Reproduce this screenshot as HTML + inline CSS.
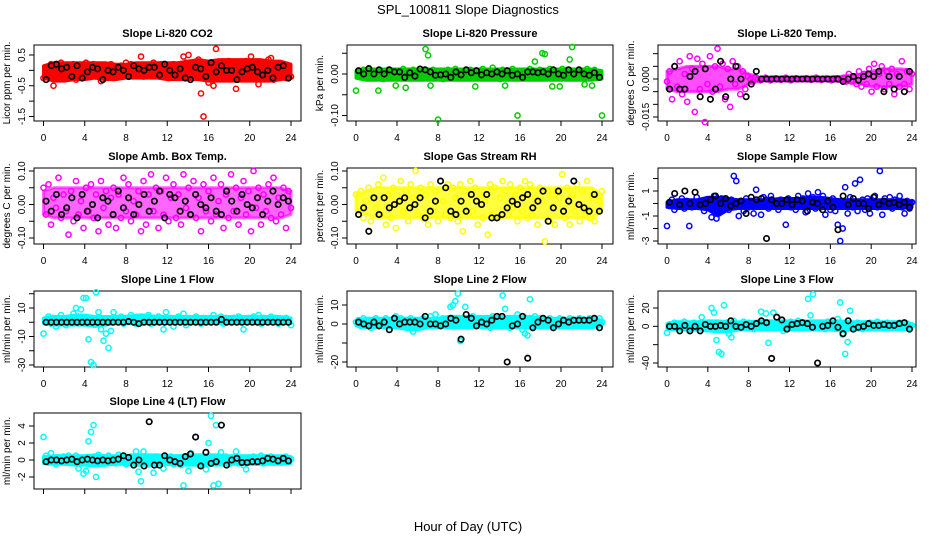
<!DOCTYPE html>
<html><head><meta charset="utf-8"><style>
html,body{margin:0;padding:0;background:#fff}
svg{display:block;font-family:"Liberation Sans",sans-serif}
</style></head><body>
<svg id="chart" width="936" height="540" viewBox="0 0 936 540">
<rect x="0" y="0" width="936" height="540" fill="#fff"/>
<text x="468" y="14" text-anchor="middle" font-size="13">SPL_100811  Slope Diagnostics</text>
<text x="468" y="531" text-anchor="middle" font-size="13">Hour of Day (UTC)</text>
</svg>
<script>
// ---- data (colored = high-rate slopes, black = half-hourly slopes) ----
const xTicks=[0,4,8,12,16,20,24];
const bandHours=[0,1,2,3,4,5,6,7,8,9,10,11,12,13,14,15,16,17,18,19,20,21,22,23,24];
const co2Vals=[-25,10,-5,20,-50,15,-10,25,5,-20,10,-15,20,-30,5,15,-10,25,-5,0,20,-20,10,-35,15,5,-10,20,-25,10,0,15,-10,25,-5,20,-15,10,5,45,-20,15,0,-10,25,-15,10,20,-5,15,-25,5,20,-10,15,-5,45,25,50,-15,10,-20,35,-75,-150,20,-40,15,-50,70,10,-25,20,-10,30,-15,25,-60,5,-20,15,30,-10,45,-25,20,-45,10,25,-15,35,40,-30,15,-10,20,5,-25,10,-20];
const co2Black=[-30,15,20,5,10,-20,15,-25,-5,10,5,-30,0,-5,10,0,-20,15,5,0,10,10,-15,20,0,-15,5,-25,-30,10,5,-20,25,-5,15,0,0,-30,-5,5,10,-5,-15,0,-25,10,15,-25];
const co2Lo=[-25,-35,-35,-30,-30,-25,-30,-30,-25,-25,-25,-25,-30,-30,-30,-30,-35,-35,-35,-35,-35,-35,-35,-30,-25];
const co2Hi=[15,25,25,25,25,25,25,20,20,25,25,25,25,25,30,35,30,35,35,35,35,35,30,30,20];
const presVals=[-40,5,-8,10,-5,12,-10,3,-6,-40,8,-12,5,10,-3,-8,-28,6,-5,12,-33,8,-5,10,-10,5,4,-3,60,45,-28,10,-5,-110,8,-12,5,10,-3,-8,12,-5,6,-10,8,-4,10,-6,-30,5,-8,12,-3,-10,6,15,-5,8,-12,10,-28,4,-8,12,-6,-100,5,-10,8,-4,12,-6,30,-8,10,50,48,-5,12,-30,-10,8,-30,12,-8,10,35,65,-6,5,-10,8,-25,12,-5,-28,10,-8,5,-100];
const presBlack=[8,0,13,0,10,0,10,5,5,-8,3,-5,12,10,5,-3,-2,0,-8,5,-2,10,3,8,-2,3,0,5,0,8,-3,0,-8,5,5,3,5,0,10,0,-3,10,0,10,0,-3,3,-8];
const presLo=[-10,-15,-15,-15,-15,-15,-15,-15,-15,-15,-15,-15,-15,-15,-15,-15,-15,-15,-15,-15,-15,-15,-15,-15,-12];
const presHi=[8,12,12,12,12,12,12,12,12,12,12,12,12,12,12,12,12,12,12,12,12,12,12,12,8];
const tempVals=[-1,3,-8,5,-3,7,-6,2,-9,9,4,-13,8,-4,6,-17,-2,9,-5,5,12,-3,6,-8,4,-11,7,-2,5,-6,3,-4,1,0,-1,0.5,0,-0.5,0,0.5,0,-0.5,0,0.3,0,-0.3,0,0.5,0,-0.5,0,0.3,0,0,0,0.3,0,-0.3,0,0.5,0,-0.3,0,0.2,0,-0.5,0,0.3,0,-0.3,0.5,-1,2,-1,1,-2,3,-3,2,-2,4,-5,6,-3,2,5,-4,3,-2,4,-6,2,-3,7,-2,3,-4,2];
const tempBlack=[-4,5,-4,-4,1,3,-7,4,-8,-4,7,-7,0,5,0,-7,-2,3,0,0,0,0,0,0,0,0,0,0,0,0,0,0,0,0,-1,0,1,-0.5,1,2,1,3,-5,1,-4,1,-5,3];
const tempLo=[-4,-5,-5,-5,-5,-5,-4,-4,-2,-0.8,-0.8,-0.8,-0.8,-0.8,-0.8,-0.8,-0.8,-1,-1.5,-2,-3,-3,-3,-3,-2];
const tempHi=[3,4,5,5,5,5,4,4,2,0.8,0.8,0.8,0.8,0.8,0.8,0.8,0.8,1,1.5,2,3,4,4,4,3];
const ambVals=[5,-3,6,-6,2,-1,8,-4,3,-2,-9,4,-5,7,-3,1,-7,5,-2,6,-4,3,-8,7,-1,4,-6,2,5,-7,3,-4,8,-2,6,-5,1,-3,4,-8,7,-6,3,9,-2,5,-7,4,-3,8,-5,2,6,-4,3,-6,9,-1,5,-3,7,-4,2,-8,6,-2,4,-5,8,-3,1,6,-7,3,-4,9,-2,5,-6,2,7,-3,4,-8,10,-1,5,-6,3,-2,6,-4,8,-5,2,-3,5,-7,4,-1];
const ambBlack=[1,-2,3,-3,-1,2,-4,3,-2,0,-4,2,1,-3,4,-1,2,-3,0,3,-2,1,4,-4,3,2,-2,1,-3,3,0,-1,2,-2,-3,4,1,-2,3,0,-1,2,-3,1,4,0,2,1];
const ambLo=[-3,-4,-4,-4,-4,-4,-4,-4,-4,-4,-4,-4,-4,-4,-4,-4,-4,-4,-4,-4,-4,-4,-4,-4,-3];
const ambHi=[4,5,5,5,5,5,5,5,5,5,5,5,5,5,5,5,5,5,5,5,5,5,5,5,4];
const rhVals=[3,-2,4,-4,1,5,-5,2,-1,6,-3,8,-6,3,-4,5,-7,1,7,-2,4,-5,6,2,10,-3,5,-4,3,-6,6,-2,4,-5,7,1,-3,6,-4,5,2,-5,6,-8,4,-3,7,-2,5,-6,3,-4,1,-9,6,-3,5,-4,2,7,4,-3,6,-1,3,-5,5,-2,7,-4,6,-3,2,-6,5,1,-11,4,-5,3,-6,4,2,9,-4,5,-6,3,-2,6,-5,4,-3,7,-4,2,-5,3,1,4];
const rhBlack=[-3,-1,-8,2,-3,2,-1,0,1,2,-1,0,2,-4,-2,1,7,5,-2,-3,1,-2,3,1,0,3,-4,-4,-3,-1,1,0,2,3,-1,1,4,-5,-1,4,-2,1,7,0,-1,-2,3,-2];
const rhLo=[-2,-3,-4,-4,-4,-4,-4,-4,-4,-4,-4,-4,-4,-4,-4,-4,-4,-4,-4,-4,-4,-4,-4,-4,-2];
const rhHi=[3,4,5,5,5,5,5,5,5,5,5,5,5,5,5,5,5,5,5,5,5,5,5,5,3];
const flowVals=[-18,-2,3,-5,1,-1,4,-4,2,-18,-3,0,5,-2,2,-6,3,-1,-11,6,-12,-4,4,-3,2,-5,3,22,18,-10,1,-6,4,-3,2,-8,11,-2,-9,5,3,-4,6,-2,1,-5,3,-2,-17,4,-3,2,-5,6,-1,4,-7,8,-2,5,-4,9,-3,6,-9,2,-5,4,-6,-17,-30,-20,13,-8,5,-3,16,-6,19,3,-5,4,-8,2,6,-3,26,-9,4,-2,5,-4,3,-1,6,-3,-8,2,-4,1];
const flowBlack=[1,8,-1,10,0,9,-1,0,3,6,0,4,-2,0,2,-8,5,3,4,-28,3,0,0,3,-1,3,2,-6,1,0,-5,2,-3,-21,6,-1,4,0,0,-4,5,-1,2,0,1,-1,1,-3];
const flowLo=[-3,-4,-4,-4,-5,-10,-5,-4,-4,-4,-4,-4,-4,-4,-4,-4,-4,-4,-4,-4,-4,-4,-4,-4,-3];
const flowHi=[1,3,3,3,5,5,4,3,3,3,3,4,4,4,5,5,4,3,3,3,3,3,3,3,2];
const line1Vals=[-8,2,4,-1,3,-3,2,5,1,-2,3,2,6,10,4,9,17,17,-12,-28,-30,21,7,-5,-13,-8,-18,-6,7,3,2,4,-1,3,1,5,2,-1,3,4,1,2,5,-1,3,2,4,1,-5,7,2,3,-3,1,4,2,6,-2,3,1,2,4,1,-1,3,2,1,3,5,2,1,4,-1,3,2,1,3,2,4,1,-5,2,3,1,4,2,5,-1,3,2,1,4,2,3,-1,2,1,3,2,-2];
const line1Black=[0,0,0,0,0,0,0,0,0,0,0,0,0,0,0,0,0.5,0,-1,0,0,0,0,0,0,0,0,0,0,0,0,0,0,0,2,0,0,0,0,0,0,0,0,0,0,0,0,0];
const line1Lo=[-1,-2,-2,-2,-2,-3,-2,-1,-1,-1,-1,-1,-1,-1,-1,-1,-1,-1,-1,-1,-1,-1,-1,-1,-1];
const line1Hi=[3,4,4,5,5,4,4,4,4,5,5,4,4,4,4,4,4,4,4,4,4,4,4,4,3];
const line2Vals=[1,2,-1,3,0,2,-2,1,3,-1,2,0,3,1,-1,2,4,0,3,1,2,-1,3,-4,1,2,0,3,1,-1,4,2,5,1,0,3,2,-1,9,10,12,16,-9,3,9,2,-1,4,1,3,2,0,3,1,-2,4,2,0,3,15,8,1,-2,2,3,5,1,-3,-5,-6,13,2,4,1,3,0,2,-1,3,1,2,0,3,1,-1,2,3,0,2,1,3,-1,2,0,3,1,2,-1,3,1];
const line2Black=[1,0,-1,1,-1,1,-3,3,0,1,1,1,0,4,0,0,-1,0,3,2,-8,5,3,-1,1,0,2,4,4,-20,-1,0,4,-18,-2,1,3,2,-2,0,2,1,2,2,2,2,3,-2];
const line2Lo=[-1,-2,-2,-2,-2,-3,-3,-2,-2,-2,-2,-2,-2,-2,-2,-2,-2,-2,-2,-2,-2,-2,-2,-2,-1];
const line2Hi=[2,3,3,3,3,3,3,3,3,4,4,4,4,4,4,4,4,4,3,3,3,3,3,3,2];
const line3Vals=[-7,2,-1,4,0,3,-2,5,1,-3,2,4,-1,3,10,2,-3,4,20,15,-15,-28,-30,23,4,-8,-12,6,2,-2,3,5,-1,4,2,-3,3,1,16,4,14,-18,3,15,2,-1,4,-5,3,2,5,-2,3,6,0,4,2,30,12,35,3,-1,4,2,-3,5,1,-2,4,8,26,-9,-30,-17,17,2,-1,4,2,-3,3,1,4,-2,2,5,0,3,-1,4,2,-2,3,1,4,-1,2,3,-3,1];
const line3Black=[0,0,-5,1,-5,0,-5,2,0,0,1,0,6,0,-1,2,0,3,6,4,-35,10,7,-3,2,3,4,3,-1,-40,0,1,6,-1,-8,6,-3,-1,0,3,1,1,2,1,1,3,4,-3];
const line3Lo=[-3,-4,-4,-4,-5,-6,-6,-4,-4,-4,-4,-4,-4,-4,-4,-4,-4,-5,-4,-4,-4,-4,-4,-4,-3];
const line3Hi=[3,5,5,5,6,6,5,5,5,6,6,6,6,6,6,6,6,6,5,5,5,5,5,5,3];
const line4Vals=[2.7,0.5,-0.3,0.8,0.2,-0.5,0.3,-0.2,0.4,-0.3,0.5,-0.2,0.3,0.5,-1,0.2,-1.6,-1.3,2.2,3.3,4.1,-2,0.6,-0.4,0.3,-0.2,0.5,-0.3,0.2,-0.4,0.6,-0.2,0.3,-0.5,0.2,0.4,-0.3,1,-1.4,-2.5,1,0.3,-0.5,0.2,-1.5,0.4,-0.3,0.2,-1,0.3,-0.2,0.4,-0.5,0.3,0.2,-0.6,-3,0.4,-1.3,0.8,0.3,-0.4,0.2,-0.5,0.3,-1.1,2,5.2,-3,4.1,-2.8,0.9,-0.3,0.4,-0.5,0.2,0.3,1,-0.4,0.2,-0.6,-1.1,0.3,-0.2,0.4,-0.3,0.2,0.5,-0.4,0.3,-0.2,0.4,-0.3,0.2,0.1,-0.3,0.2,0.4,-0.2,0.1];
const line4Black=[-0.2,0,0,-0.1,0,0.1,-0.2,0,0.1,0,-0.1,0,-0.1,0,0.1,0.5,0.3,-0.6,0,-0.7,4.5,-0.6,-0.6,0.5,0,-0.2,-0.4,0.4,0.7,2.7,-0.7,0.9,-0.4,-0.2,4.1,-0.6,0,0.2,-0.3,-0.3,-0.2,-0.2,-0.1,0.2,0.1,-0.1,0.2,-0.1];
const line4Lo=[-0.4,-0.5,-0.5,-0.6,-0.6,-0.7,-0.6,-0.5,-0.5,-0.6,-0.6,-0.6,-0.5,-0.6,-0.6,-0.6,-0.6,-0.6,-0.5,-0.5,-0.5,-0.5,-0.5,-0.5,-0.4];
const line4Hi=[0.4,0.5,0.5,0.5,0.5,0.6,0.5,0.5,0.5,0.6,0.6,0.6,0.5,0.5,0.6,0.6,0.6,0.6,0.5,0.5,0.5,0.5,0.5,0.5,0.4];
const co2Ticks=[0.5,0,-0.5,-1,-1.5], co2Labels=["0.5","","-0.5","","-1.5"];
const presTicks=[0.05,0,-0.05,-0.10], presLabels=["","0.00","","-0.10"];
const tempTicks=[0.010,0.005,0,-0.005,-0.010,-0.015], tempLabels=["","","0.000","","","-0.015"];
const ambTicks=[0.10,0.05,0,-0.05,-0.10], ambLabels=["0.10","","0.00","","-0.10"];
const rhTicks=[0.10,0.05,0,-0.05,-0.10], rhLabels=["0.10","","0.00","","-0.10"];
const flowTicks=[2,1,0,-1,-2,-3], flowLabels=["","1","","-1","","-3"];
const line1Ticks=[20,10,0,-10,-20,-30], line1Labels=["","10","","-10","","-30"];
const line2Ticks=[10,0,-10,-20], line2Labels=["10","0","","-20"];
const line3Ticks=[20,0,-20,-40], line3Labels=["20","0","","-40"];
const line4Ticks=[4,2,0,-2], line4Labels=["4","2","0","-2"];

// ---- layout ----
const cols=[{l:34,r:301,x0:43.5,x24:291},{l:347,r:613,x0:356,x24:602},{l:658,r:916,x0:667,x24:912}];
const rows=[{t:45,b:121},{t:168,b:244},{t:291,b:367},{t:413,b:489}];
const panels=[
 {name:"co2",title:"Slope Li-820 CO2",ylab:"Licor ppm per min.",c:0,r:0,col:"#ff0000",op:1,vals:co2Vals,blk:co2Black,lo:co2Lo,hi:co2Hi,sc:0.01,ya:[0.5,55],yb:[-1.5,116.5],ticks:co2Ticks,labs:co2Labels,showX:true},
 {name:"pressure",title:"Slope Li-820 Pressure",ylab:"kPa per min.",c:1,r:0,col:"#00cc00",op:1,vals:presVals,blk:presBlack,lo:presLo,hi:presHi,sc:0.001,ya:[0,74],yb:[-0.10,115.5],ticks:presTicks,labs:presLabels,showX:true},
 {name:"li820-temp",title:"Slope Li-820 Temp.",ylab:"degrees C per min.",c:2,r:0,col:"#ff00ff",op:0.7,vals:tempVals,blk:tempBlack,lo:tempLo,hi:tempHi,sc:0.001,ya:[0,79],yb:[-0.015,117],ticks:tempTicks,labs:tempLabels,showX:true},
 {name:"amb-box-temp",title:"Slope Amb. Box Temp.",ylab:"degrees C per min.",c:0,r:1,col:"#ff00ff",op:0.6,vals:ambVals,blk:ambBlack,lo:ambLo,hi:ambHi,sc:0.01,ya:[0.10,171],yb:[-0.10,238],ticks:ambTicks,labs:ambLabels,showX:true},
 {name:"gas-rh",title:"Slope Gas Stream RH",ylab:"percent per min.",c:1,r:1,col:"#ffff00",op:0.75,vals:rhVals,blk:rhBlack,lo:rhLo,hi:rhHi,sc:0.01,ya:[0.10,171],yb:[-0.10,238],ticks:rhTicks,labs:rhLabels,showX:true},
 {name:"sample-flow",title:"Slope Sample Flow",ylab:"ml/min per min.",c:2,r:1,col:"#0000ff",op:1,vals:flowVals,blk:flowBlack,lo:flowLo,hi:flowHi,sc:0.1,ya:[1,191],yb:[-3,241],ticks:flowTicks,labs:flowLabels,showX:true},
 {name:"line1-flow",title:"Slope Line 1 Flow",ylab:"ml/min per min.",c:0,r:2,col:"#00ffff",op:1,vals:line1Vals,blk:line1Black,lo:line1Lo,hi:line1Hi,sc:1,ya:[10,308],yb:[-30,365],ticks:line1Ticks,labs:line1Labels,showX:true},
 {name:"line2-flow",title:"Slope Line 2 Flow",ylab:"ml/min per min.",c:1,r:2,col:"#00ffff",op:1,vals:line2Vals,blk:line2Black,lo:line2Lo,hi:line2Hi,sc:1,ya:[10,305],yb:[-20,362],ticks:line2Ticks,labs:line2Labels,showX:true},
 {name:"line3-flow",title:"Slope Line 3 Flow",ylab:"ml/min per min.",c:2,r:2,col:"#00ffff",op:1,vals:line3Vals,blk:line3Black,lo:line3Lo,hi:line3Hi,sc:1,ya:[20,308],yb:[-40,363],ticks:line3Ticks,labs:line3Labels,showX:true},
 {name:"line4-flow",title:"Slope Line 4 (LT) Flow",ylab:"ml/min per min.",c:0,r:3,col:"#00ffff",op:1,vals:line4Vals,blk:line4Black,lo:line4Lo,hi:line4Hi,sc:1,ya:[4,426],yb:[-2,477],ticks:line4Ticks,labs:line4Labels,showX:false}
];
const NS="http://www.w3.org/2000/svg";
const svg=document.getElementById("chart");
function mk(tag,attrs,parent){const e=document.createElementNS(NS,tag);for(const k in attrs)e.setAttribute(k,attrs[k]);(parent||svg).appendChild(e);return e;}
panels.forEach(p=>{
  const C=cols[p.c],R=rows[p.r];
  const g=mk("g",{});
  
  
  const xs=h=>C.x0+(C.x24-C.x0)*h/24;
  const ys=v=>p.ya[1]+(v-p.ya[0])*(p.yb[1]-p.ya[1])/(p.yb[0]-p.ya[0]);
  const cx=(C.l+C.r)/2;
  const t=mk("text",{x:cx,y:R.t-8,"text-anchor":"middle","font-size":"11","font-weight":"bold"},g);
  t.textContent=p.title;
  
  
  const yl=mk("text",{x:0,y:0,"text-anchor":"middle","font-size":"10",transform:`translate(${C.l-24},${(R.t+R.b)/2}) rotate(-90)`},g);
  yl.textContent=p.ylab;
  
  
  const ymin=p.ticks[p.ticks.length-1],ymax=p.ticks[0];
  const ya=mk("line",{x1:C.l,x2:C.l,y1:ys(ymax),y2:ys(ymin),stroke:"#000","stroke-width":"1"},g);
  
  
  p.ticks.forEach((v,i)=>{
    const y=ys(v);
    const tk=mk("line",{x1:C.l-5,x2:C.l,y1:y,y2:y,stroke:"#000","stroke-width":"1"},g);
    
    
    if(p.labs[i]){
      const tl=mk("text",{x:0,y:0,"text-anchor":"middle","font-size":"10",transform:`translate(${C.l-9},${y}) rotate(-90)`},g);
      tl.textContent=p.labs[i];
      
      
    }
  });
  const xa=mk("line",{x1:xs(0),x2:xs(24),y1:R.b,y2:R.b,stroke:"#000","stroke-width":"1"},g);
  
  
  xTicks.forEach(h=>{
    const x=xs(h);
    const tk=mk("line",{x1:x,x2:x,y1:R.b,y2:R.b+5,stroke:"#000","stroke-width":"1"},g);
    
    
    if(p.showX){
      const tl=mk("text",{x:x,y:R.b+20,"text-anchor":"middle","font-size":"10"},g);
      tl.textContent=String(h);
      
      
    }
  });
  const bx=mk("rect",{x:C.l,y:R.t,width:C.r-C.l,height:R.b-R.t,fill:"none",stroke:"#000","stroke-width":"1"},g);
  
  
  let pts=bandHours.map((h,i)=>xs(h)+","+ys(p.hi[i]*p.sc));
  pts=pts.concat(bandHours.slice().reverse().map((h,j)=>xs(h)+","+ys(p.lo[bandHours.length-1-j]*p.sc)));
  const band=mk("polygon",{points:pts.join(" "),fill:p.col,"fill-opacity":p.op,stroke:p.col,"stroke-opacity":p.op,"stroke-width":"3","stroke-linejoin":"round"},g);
  
  
  const n=p.vals.length;
  p.vals.forEach((v,i)=>{
    const c=mk("circle",{cx:xs(i*24/(n-1)),cy:ys(v*p.sc),r:"2.6",fill:"none",stroke:p.col,"stroke-width":"1.5"},g);
    
    
  });
  const m=p.blk.length;
  p.blk.forEach((v,i)=>{
    const c=mk("circle",{cx:xs(0.25+i*23.5/(m-1)),cy:ys(v*p.sc),r:"2.7",fill:"none",stroke:"#000","stroke-width":"1.7"},g);
    
    
  });
});
</script>
</body></html>
